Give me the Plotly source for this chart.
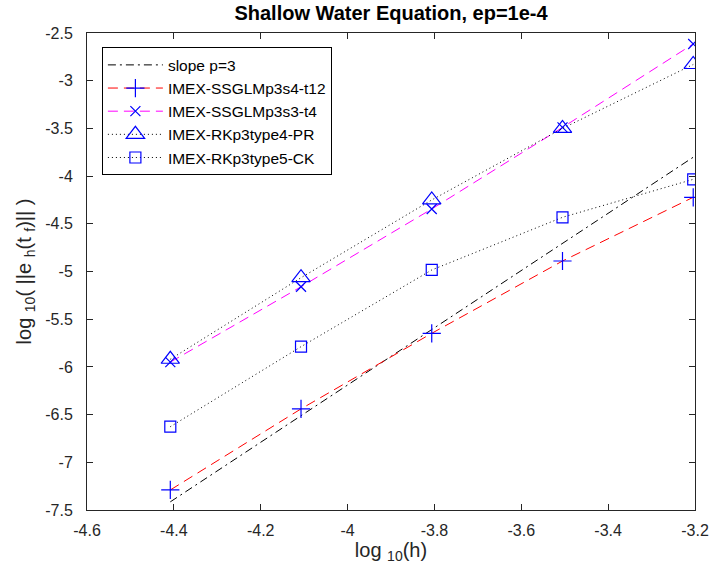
import plotly.graph_objects as go

# log10(h)
log_h = [-4.4082, -4.1072, -3.8062, -3.5051, -3.2041]

# log10 errors
err_ssglm_s4_t12 = [-7.29, -6.44, -5.648, -4.89, -4.222]
err_ssglm_s3_t4 = [-5.95, -5.16, -4.345, -3.49, -2.615]
err_rk_type4_pr = [-5.92, -5.065, -4.25, -3.50, -2.83]
err_rk_type5_ck = [-6.627, -5.788, -4.984, -4.432, -4.034]

slope_p = 3
slope_offset = 5.81
slope_line = [slope_p * v + slope_offset for v in log_h]

x_ticks = [-4.6, -4.4, -4.2, -4.0, -3.8, -3.6, -3.4, -3.2]
x_tick_text = ["-4.6", "-4.4", "-4.2", "-4", "-3.8", "-3.6", "-3.4", "-3.2"]
y_ticks = [-7.5, -7, -6.5, -6, -5.5, -5, -4.5, -4, -3.5, -3, -2.5]
y_tick_text = ["-7.5", "-7", "-6.5", "-6", "-5.5", "-5", "-4.5", "-4", "-3.5", "-3", "-2.5"]

FONT = "Liberation Sans, Arial, Helvetica, sans-serif"
AX = "#262626"

fig = go.Figure()
fig.add_trace(go.Scatter(
    x=log_h, y=slope_line, mode="lines", name="slope p=3",
    line=dict(color="black", width=1, dash="8px,4px,2px,4px")))
fig.add_trace(go.Scatter(
    x=log_h, y=err_ssglm_s4_t12, mode="lines+markers", name="IMEX-SSGLMp3s4-t12",
    line=dict(color="#ff0000", width=1, dash="10px,6px"),
    marker=dict(symbol="cross-thin-open", size=13, color="#0000ff",
                line=dict(color="#0000ff", width=1.2))))
fig.add_trace(go.Scatter(
    x=log_h, y=err_ssglm_s3_t4, mode="lines+markers", name="IMEX-SSGLMp3s3-t4",
    line=dict(color="#ff00ff", width=1, dash="10px,6px"),
    marker=dict(symbol="x-thin-open", size=10, color="#0000ff",
                line=dict(color="#0000ff", width=1.2))))
fig.add_trace(go.Scatter(
    x=log_h, y=err_rk_type4_pr, mode="lines+markers", name="IMEX-RKp3type4-PR",
    line=dict(color="black", width=1, dash="1px,3px"),
    marker=dict(symbol="triangle-up-open", size=16, color="#0000ff",
                line=dict(color="#0000ff", width=1.2))))
fig.add_trace(go.Scatter(
    x=log_h, y=err_rk_type5_ck, mode="lines+markers", name="IMEX-RKp3type5-CK",
    line=dict(color="black", width=1, dash="1px,3px"),
    marker=dict(symbol="square-open", size=11, color="#0000ff",
                line=dict(color="#0000ff", width=1.2))))

L, R, T, B = 87, 14, 33, 63
fig.update_layout(
    width=709, height=573,
    margin=dict(l=L, r=R, t=T, b=B),
    paper_bgcolor="white", plot_bgcolor="white",
    font=dict(family=FONT, size=16, color=AX),
    title=dict(text="<b>Shallow Water Equation, ep=1e-4</b>",
               x=(L + 709 - R) / 2 / 709, xanchor="center",
               y=1 - 13 / 573, yanchor="middle",
               font=dict(family=FONT, size=20, color="black")),
    showlegend=True,
    legend=dict(x=0.0245, y=0.97, xanchor="left", yanchor="top",
                bgcolor="white", bordercolor="black", borderwidth=1,
                font=dict(family=FONT, size=15.5, color="black"),
                itemwidth=55, tracegroupgap=0),
    xaxis=dict(range=[-4.6, -3.2], tickvals=x_ticks, ticktext=x_tick_text,
               ticks="inside", ticklen=6, tickcolor=AX, mirror="ticks",
               showline=True, linecolor=AX, linewidth=1, showgrid=False,
               zeroline=False, ticklabelstandoff=6, ticklabeloverflow="allow",
               automargin=False,
               title=dict(text="log <sub>10</sub>(h)", standoff=4,
                          font=dict(family=FONT, size=20, color=AX))),
    yaxis=dict(range=[-7.5, -2.5], tickvals=y_ticks, ticktext=y_tick_text,
               ticks="inside", ticklen=6, tickcolor=AX, mirror="ticks",
               showline=True, linecolor=AX, linewidth=1, showgrid=False,
               zeroline=False, ticklabelstandoff=10, ticklabeloverflow="allow",
               automargin=False,
               title=dict(text="log <sub>10</sub>( ||e <sub>h</sub>(t <sub>f</sub>)|| )",
                          standoff=8,
                          font=dict(family=FONT, size=20, color=AX))),
)

fig.write_html("out.html")
